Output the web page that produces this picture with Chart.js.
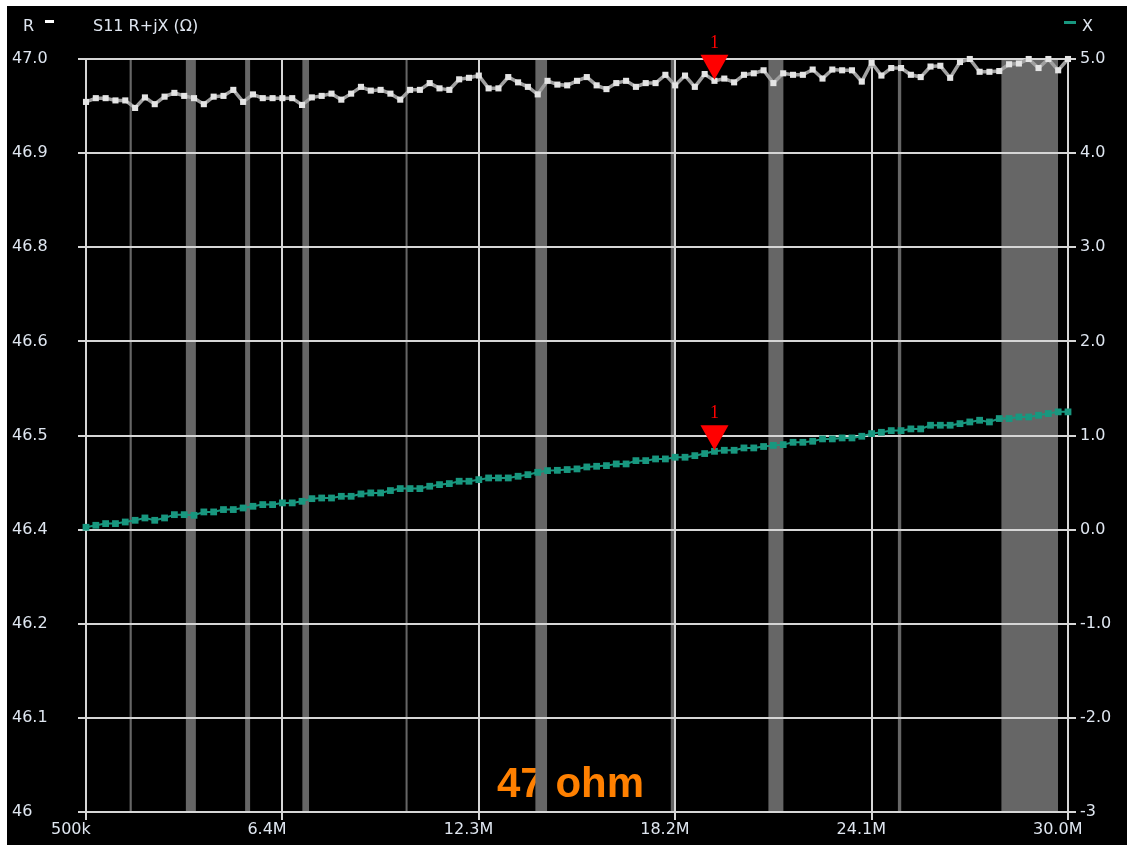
<!DOCTYPE html>
<html>
<head>
<meta charset="utf-8">
<script src="https://cdn.jsdelivr.net/npm/chart.js@4.4.1/dist/chart.umd.min.js"></script>
<style>
    html, body { margin: 0; padding: 0; background: #ffffff; }
    #wrap { position: absolute; left: 7px; top: 6px; width: 1120px; height: 839px; background: #000; }
</style>
</head>
<body>
<div id="wrap"><canvas id="s11-chart" width="1120" height="839"></canvas></div>
<script>
// Sweep: 500 kHz .. 30 MHz, 101 points
const sweepStartMHz = 0.5;
const sweepStopMHz = 30.0;
const sweepPoints = 101;

// Resistance R (ohm), left axis
const rValues = [
    46.943, 46.948, 46.948, 46.945, 46.945, 46.935, 46.949, 46.940, 46.950, 46.955,
    46.951, 46.948, 46.940, 46.950, 46.951, 46.959, 46.943, 46.953, 46.948, 46.948,
    46.948, 46.948, 46.939, 46.949, 46.951, 46.954, 46.946, 46.954, 46.963, 46.958,
    46.959, 46.954, 46.946, 46.959, 46.959, 46.968, 46.961, 46.959, 46.973, 46.975,
    46.978, 46.961, 46.961, 46.976, 46.969, 46.963, 46.953, 46.971, 46.966, 46.965,
    46.971, 46.976, 46.965, 46.960, 46.968, 46.971, 46.963, 46.968, 46.968, 46.979,
    46.965, 46.978, 46.963, 46.980, 46.971, 46.974, 46.969, 46.979, 46.981, 46.985,
    46.968, 46.981, 46.979, 46.979, 46.986, 46.974, 46.986, 46.985, 46.985, 46.970,
    46.995, 46.978, 46.988, 46.988, 46.979, 46.976, 46.990, 46.991, 46.975, 46.996,
    47.000, 46.983, 46.983, 46.984, 46.993, 46.994, 47.000, 46.988, 47.000, 46.985,
    47.000
];

// Reactance X (ohm), right axis
const xValues = [
    0.025, 0.046, 0.064, 0.064, 0.081, 0.099, 0.124, 0.099, 0.124, 0.159,
    0.159, 0.152, 0.188, 0.188, 0.213, 0.213, 0.230, 0.248, 0.266, 0.266,
    0.284, 0.284, 0.301, 0.329, 0.336, 0.336, 0.354, 0.354, 0.379, 0.390,
    0.390, 0.415, 0.436, 0.436, 0.436, 0.461, 0.478, 0.489, 0.514, 0.514,
    0.531, 0.549, 0.549, 0.549, 0.567, 0.584, 0.609, 0.627, 0.630, 0.638,
    0.645, 0.666, 0.673, 0.680, 0.698, 0.698, 0.733, 0.733, 0.751, 0.751,
    0.769, 0.769, 0.786, 0.808, 0.832, 0.843, 0.843, 0.868, 0.868, 0.883,
    0.895, 0.903, 0.928, 0.928, 0.939, 0.964, 0.964, 0.974, 0.974, 0.992,
    1.020, 1.034, 1.052, 1.052, 1.070, 1.070, 1.109, 1.109, 1.109, 1.126,
    1.144, 1.162, 1.144, 1.180, 1.180, 1.197, 1.197, 1.215, 1.233, 1.251,
    1.251
];

// Axis ticks
const xTickValues = [0.5, 6.4, 12.3, 18.2, 24.1, 30.0];
const xTickLabels = ['500k', '6.4M', '12.3M', '18.2M', '24.1M', '30.0M'];
const rTickValues = [46, 46.125, 46.25, 46.375, 46.5, 46.625, 46.75, 46.875, 47];
const rTickLabels = ['46', '46.1', '46.2', '46.4', '46.5', '46.6', '46.8', '46.9', '47.0'];
const xAxisTickValues = [-3, -2, -1, 0, 1, 2, 3, 4, 5];
const xAxisTickLabels = ['-3', '-2.0', '-1.0', '0.0', '1.0', '2.0', '3.0', '4.0', '5.0'];

// Ham bands shaded on the plot (MHz)
const hamBands = [
    [1.81, 1.875], [3.5, 3.8], [5.28, 5.43], [7.0, 7.2], [10.1, 10.15],
    [14.0, 14.35], [18.068, 18.168], [21.0, 21.45], [24.89, 24.99], [28.0, 29.7]
];

const markerIndex = 64;
const markerLabel = '1';
const noteText = '47 ohm';

const freqs = [];
for (let i = 0; i < sweepPoints; i++) {
    freqs.push(+(sweepStartMHz + (sweepStopMHz - sweepStartMHz) * i / (sweepPoints - 1)).toFixed(4));
}

const labelColor = '#dfe6f0';
const gridColor = '#d6d6d6';
const teal = '#18977f';
const tickFont = { family: 'DejaVu Sans', size: 16 };

// background, note text and band shading
const backdropPlugin = {
    id: 'backdrop',
    beforeDraw(chart) {
        const { ctx, chartArea, scales } = chart;
        ctx.save();
        ctx.fillStyle = '#000';
        ctx.fillRect(0, 0, chart.width, chart.height);

        ctx.fillStyle = '#ff8000';
        ctx.font = 'bold 42px "Liberation Sans"';
        ctx.textBaseline = 'alphabetic';
        ctx.textAlign = 'left';
        ctx.fillText(noteText, 490, 791);

        ctx.fillStyle = '#666666';
        hamBands.forEach(([lo, hi]) => {
            const x1 = scales.x.getPixelForValue(lo);
            const x2 = scales.x.getPixelForValue(hi);
            ctx.fillRect(x1, chartArea.top, Math.max(x2 - x1, 2), chartArea.bottom - chartArea.top);
        });
        ctx.restore();
    },
    afterDraw(chart) {
        const ctx = chart.ctx;
        ctx.save();
        ctx.font = '16px "DejaVu Sans"';
        ctx.textBaseline = 'middle';
        ctx.textAlign = 'left';
        ctx.fillStyle = labelColor;
        ctx.fillText('R', 16, 21);
        ctx.fillText('S11 R+jX (\u03A9)', 86, 21);
        ctx.fillText('X', 1075, 21);
        ctx.fillStyle = '#ffffff';
        ctx.fillRect(38, 14, 9, 3);
        ctx.fillStyle = teal;
        ctx.fillRect(1057, 15, 12, 3);
        ctx.restore();
    }
};

// red marker triangles
const markerPlugin = {
    id: 'markers',
    afterDatasetsDraw(chart) {
        const ctx = chart.ctx;
        ctx.save();
        chart.data.datasets.forEach((ds, di) => {
            const pt = chart.getDatasetMeta(di).data[markerIndex];
            if (!pt) return;
            const tipY = pt.y - 1;
            ctx.fillStyle = '#ff0000';
            ctx.beginPath();
            ctx.moveTo(pt.x - 14, tipY - 25);
            ctx.lineTo(pt.x + 14, tipY - 25);
            ctx.lineTo(pt.x, tipY);
            ctx.closePath();
            ctx.fill();
            ctx.font = '18px "Liberation Serif"';
            ctx.textAlign = 'center';
            ctx.textBaseline = 'middle';
            ctx.fillText(markerLabel, pt.x, tipY - 37);
        });
        ctx.restore();
    }
};

const ctx = document.getElementById('s11-chart').getContext('2d');

new Chart(ctx, {
    type: 'line',
    data: {
        datasets: [
            {
                label: 'R',
                data: freqs.map((f, i) => ({ x: f, y: rValues[i] })),
                yAxisID: 'yR',
                borderColor: '#a0a0a0',
                borderWidth: 3.5,
                pointStyle: 'rect',
                pointRadius: 4.3,
                pointBorderWidth: 0,
                pointBackgroundColor: '#e4e4e4',
                clip: 8
            },
            {
                label: 'X',
                data: freqs.map((f, i) => ({ x: f, y: xValues[i] })),
                yAxisID: 'yX',
                borderColor: teal,
                borderWidth: 2,
                pointStyle: 'rect',
                pointRadius: 4.8,
                pointBorderWidth: 0,
                pointBackgroundColor: teal,
                clip: 8
            }
        ]
    },
    options: {
        responsive: false,
        animation: false,
        events: [],
        layout: { padding: { left: 5, top: 53, right: 0, bottom: 0 } },
        elements: { line: { tension: 0 } },
        plugins: { legend: { display: false }, tooltip: { enabled: false } },
        scales: {
            x: {
                type: 'linear',
                position: 'bottom',
                min: sweepStartMHz,
                max: sweepStopMHz,
                afterBuildTicks: (scale) => { scale.ticks = xTickValues.map(v => ({ value: v })); },
                afterFit: (scale) => { scale.height = 33; },
                border: { display: false },
                grid: { color: gridColor, lineWidth: 2, tickLength: 8 },
                ticks: {
                    color: labelColor,
                    font: tickFont,
                    align: 'start',
                    labelOffset: -35,
                    padding: 0,
                    maxRotation: 0,
                    autoSkip: false,
                    callback: (v, i) => xTickLabels[i]
                }
            },
            yR: {
                type: 'linear',
                position: 'left',
                min: 46,
                max: 47,
                afterBuildTicks: (scale) => { scale.ticks = rTickValues.map(v => ({ value: v })); },
                afterFit: (scale) => { scale.width = 74; },
                border: { display: false },
                grid: { color: gridColor, lineWidth: 2, tickLength: 8 },
                ticks: {
                    color: labelColor,
                    font: tickFont,
                    crossAlign: 'far',
                    autoSkip: false,
                    callback: (v, i) => rTickLabels[i]
                }
            },
            yX: {
                type: 'linear',
                position: 'right',
                min: -3,
                max: 5,
                afterBuildTicks: (scale) => { scale.ticks = xAxisTickValues.map(v => ({ value: v })); },
                afterFit: (scale) => { scale.width = 59; },
                border: { display: false },
                grid: { color: gridColor, lineWidth: 2, tickLength: 8, drawOnChartArea: false },
                ticks: {
                    color: labelColor,
                    font: tickFont,
                    padding: 4,
                    autoSkip: false,
                    callback: (v, i) => xAxisTickLabels[i]
                }
            }
        }
    },
    plugins: [backdropPlugin, markerPlugin]
});
</script>
</body>
</html>
